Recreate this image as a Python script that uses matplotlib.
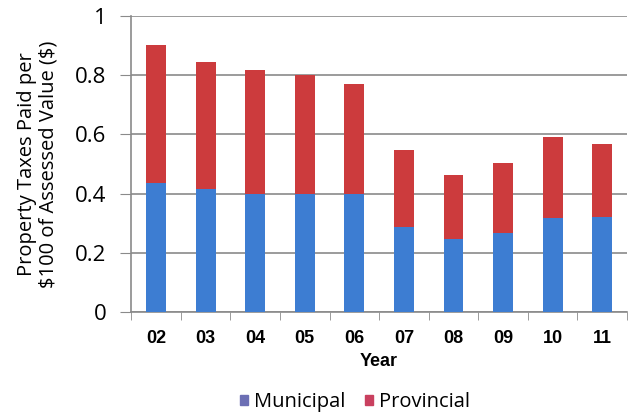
import numpy as np
import matplotlib.pyplot as plt

years = ['02', '03', '04', '05', '06', '07', '08', '09', '10', '11']
municipal = [0.436, 0.415, 0.40, 0.40, 0.40, 0.287, 0.245, 0.266, 0.317, 0.32]
total = [0.902, 0.845, 0.817, 0.80, 0.77, 0.547, 0.463, 0.503, 0.59, 0.567]
provincial = [t - m for t, m in zip(total, municipal)]

blue = '#3d7dd2'
red = '#cc3b3d'

fig = plt.figure(figsize=(6.34, 4.16), dpi=100)
ax = fig.add_axes([0.207, 0.25, 0.782, 0.7115])

x = np.arange(len(years))
ax.bar(x, municipal, width=0.4, color=blue, label='Municipal', zorder=3)
ax.bar(x, provincial, width=0.4, bottom=municipal, color=red, label='Provincial', zorder=3)

ax.set_xlim(-0.5, len(years) - 0.5)
ax.set_ylim(0, 1)
ax.set_yticks([0, 0.2, 0.4, 0.6, 0.8, 1])
ax.set_yticklabels(['0', '0.2', '0.4', '0.6', '0.8', '1'], fontsize=16, family='Open Sans')
ax.yaxis.grid(True, color='#8a8a8a', linewidth=1.2, zorder=0)

# category labels centred, tick marks on the boundaries between categories
ax.set_xticks(x)
ax.set_xticklabels(years, fontsize=13, fontweight='bold', family='Liberation Sans')
ax.tick_params(axis='x', length=0, pad=13)
ax.set_xticks(np.arange(-0.5, len(years)), minor=True)
ax.tick_params(axis='x', which='minor', length=6, color='#8a8a8a', direction='out')
ax.tick_params(axis='y', length=8, color='#8a8a8a', pad=10)

for side in ['top', 'right']:
    ax.spines[side].set_visible(False)
ax.spines['left'].set_color('#8a8a8a')
ax.spines['bottom'].set_color('#8a8a8a')
ax.spines['left'].set_linewidth(1.2)
ax.spines['bottom'].set_linewidth(1.2)

ax.set_xlabel('Year', fontsize=13, fontweight='bold', family='Liberation Sans', labelpad=4)
ax.set_ylabel('Property Taxes Paid per\n\\$100 of Assessed Value (\\$)', fontsize=14.5,
              family='Open Sans', linespacing=1.1, labelpad=12)

handles = [plt.Rectangle((0, 0), 1, 1, color='#6c6fb4'),
           plt.Rectangle((0, 0), 1, 1, color='#c9405f')]
fig.legend(handles, ['Municipal', 'Provincial'], loc='center', bbox_to_anchor=(0.56, 0.033),
           ncol=2, frameon=False, prop={'family': 'Open Sans', 'size': 14.5},
           handlelength=0.4, handleheight=0.4, handletextpad=0.3, columnspacing=1.0)

fig.savefig('out.png', dpi=100)
